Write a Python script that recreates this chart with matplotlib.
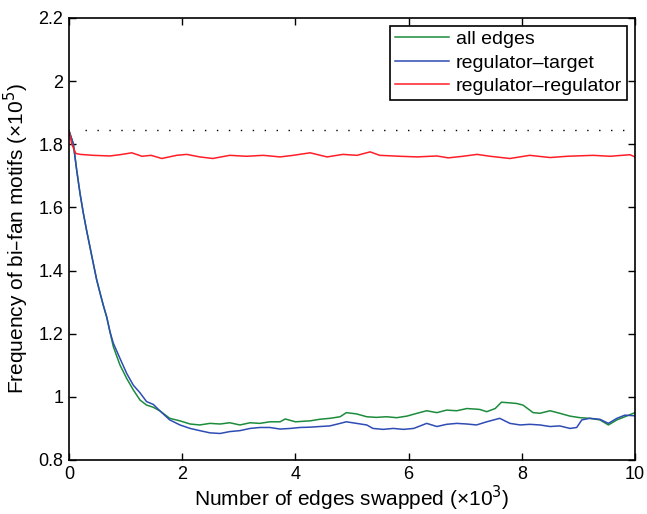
import matplotlib
matplotlib.use("Agg")
import matplotlib.pyplot as plt

plt.rcParams['font.family'] = ['Liberation Sans', 'DejaVu Sans']

# x in units of 10^3 edges swapped, y in units of 10^5 motifs
x_decay = [0, 0.076, 0.136, 0.194, 0.253, 0.31, 0.37, 0.43, 0.49, 0.55, 0.606,
           0.666, 0.724, 0.783, 0.9, 1.02, 1.136, 1.254, 1.37, 1.49, 1.61]
green_decay = [1.843, 1.802, 1.718, 1.645, 1.582, 1.528, 1.475, 1.422, 1.370, 1.328, 1.290,
               1.253, 1.206, 1.159, 1.101, 1.058, 1.022, 0.990, 0.974, 0.967, 0.955]
blue_decay = [1.843, 1.802, 1.718, 1.645, 1.582, 1.528, 1.475, 1.422, 1.370, 1.328, 1.290,
              1.253, 1.206, 1.170, 1.122, 1.074, 1.037, 1.013, 0.985, 0.976, 0.955]

x_green_tail = [1.78, 1.96, 2.14, 2.31, 2.49, 2.67, 2.84, 3.02, 3.2, 3.37, 3.55, 3.73, 3.82,
                4.0, 4.26, 4.43, 4.61, 4.79, 4.9, 5.08, 5.26, 5.43, 5.61, 5.79, 5.97, 6.15,
                6.32, 6.5, 6.67, 6.85, 7.03, 7.2, 7.26, 7.38, 7.53, 7.64, 7.79, 7.91, 8.02,
                8.2, 8.32, 8.5, 8.67, 8.85, 9.03, 9.2, 9.38, 9.53, 9.68, 9.82, 10.0]
green_tail = [0.932, 0.924, 0.914, 0.911, 0.916, 0.914, 0.918, 0.911, 0.918, 0.916, 0.921,
              0.921, 0.930, 0.921, 0.924, 0.929, 0.932, 0.937, 0.950, 0.946, 0.937, 0.935,
              0.937, 0.934, 0.939, 0.948, 0.956, 0.950, 0.958, 0.956, 0.963, 0.961, 0.960,
              0.953, 0.963, 0.983, 0.981, 0.979, 0.974, 0.950, 0.948, 0.956, 0.948, 0.939,
              0.934, 0.932, 0.927, 0.911, 0.927, 0.937, 0.950]

x_blue_tail = [1.78, 1.96, 2.14, 2.31, 2.49, 2.67, 2.84, 3.02, 3.2, 3.37, 3.55, 3.73, 3.91,
               4.08, 4.26, 4.43, 4.61, 4.79, 4.9, 5.08, 5.26, 5.37, 5.55, 5.73, 5.91, 6.09,
               6.32, 6.5, 6.67, 6.85, 7.03, 7.2, 7.38, 7.61, 7.79, 7.97, 8.14, 8.32, 8.5,
               8.67, 8.85, 8.97, 9.06, 9.2, 9.38, 9.53, 9.68, 9.82, 10.0]
blue_tail = [0.927, 0.911, 0.900, 0.893, 0.886, 0.884, 0.890, 0.893, 0.900, 0.903, 0.903,
             0.898, 0.900, 0.903, 0.904, 0.906, 0.908, 0.916, 0.921, 0.916, 0.911, 0.900,
             0.897, 0.900, 0.897, 0.900, 0.916, 0.906, 0.913, 0.916, 0.914, 0.911, 0.921,
             0.932, 0.916, 0.911, 0.913, 0.911, 0.906, 0.908, 0.900, 0.903, 0.927, 0.932,
             0.929, 0.916, 0.932, 0.942, 0.940]

x_red = [0, 0.05, 0.12, 0.2, 0.43, 0.72, 0.9, 1.11, 1.29, 1.45, 1.64, 1.9, 2.08, 2.31, 2.54,
         2.84, 3.14, 3.43, 3.73, 3.96, 4.26, 4.56, 4.84, 5.09, 5.32, 5.49, 5.85, 6.15, 6.5,
         6.7, 6.96, 7.21, 7.44, 7.79, 8.14, 8.5, 8.8, 9.26, 9.56, 9.91, 10.0]
red = [1.843, 1.800, 1.771, 1.768, 1.765, 1.763, 1.767, 1.773, 1.762, 1.765, 1.755, 1.765,
       1.768, 1.760, 1.755, 1.765, 1.762, 1.765, 1.760, 1.765, 1.773, 1.760, 1.768, 1.765,
       1.776, 1.765, 1.762, 1.760, 1.763, 1.757, 1.762, 1.768, 1.762, 1.755, 1.765, 1.758,
       1.762, 1.765, 1.762, 1.767, 1.760]

ref_x = [0.28, 10.0]
ref_y = [1.845, 1.845]

x_ticks = [0, 2, 4, 6, 8, 10]
y_ticks = [0.8, 1, 1.2, 1.4, 1.6, 1.8, 2, 2.2]
x_ticklabels = ['0', '2', '4', '6', '8', '10']
y_ticklabels = ['0.8', '1', '1.2', '1.4', '1.6', '1.8', '2', '2.2']

green_c = '#1c8c3c'
blue_c = '#2e4cb4'
red_c = '#ff1e28'

fig = plt.figure(figsize=(6.47, 5.14), dpi=100)
ax = fig.add_axes([69/647, 1 - 460/514, (635 - 69)/647, (460 - 18)/514])

ax.plot(ref_x, ref_y, color='black', lw=1.0, linestyle=(0, (1, 7.6)))
ax.plot(x_decay + x_green_tail, green_decay + green_tail, color=green_c, lw=1.1, label='all edges')
ax.plot(x_decay + x_blue_tail, blue_decay + blue_tail, color=blue_c, lw=1.1, label='regulator–target')
ax.plot(x_red, red, color=red_c, lw=1.1, label='regulator–regulator')

ax.set_xlim(0, 10)
ax.set_ylim(0.8, 2.2)
ax.set_xticks(x_ticks)
ax.set_xticklabels(x_ticklabels)
ax.set_yticks(y_ticks)
ax.set_yticklabels(y_ticklabels)
ax.tick_params(direction='in', top=True, right=True, labelsize=13, length=5, width=1, pad=4)
for s in ax.spines.values():
    s.set_linewidth(1.2)

ax.set_xlabel('Number of edges swapped (×10$^3$)', fontsize=15, labelpad=1)
ax.set_ylabel('Frequency of bi–fan motifs (×10$^5$)', fontsize=15, labelpad=5)

leg = ax.legend(loc='upper right', fontsize=14, frameon=True, fancybox=False,
                edgecolor='black', framealpha=1, borderaxespad=0.4,
                handlelength=2.8, handletextpad=0.35, labelspacing=0.3,
                borderpad=0.25)
leg.get_frame().set_linewidth(1.2)

fig.savefig('out.png', dpi=100)
